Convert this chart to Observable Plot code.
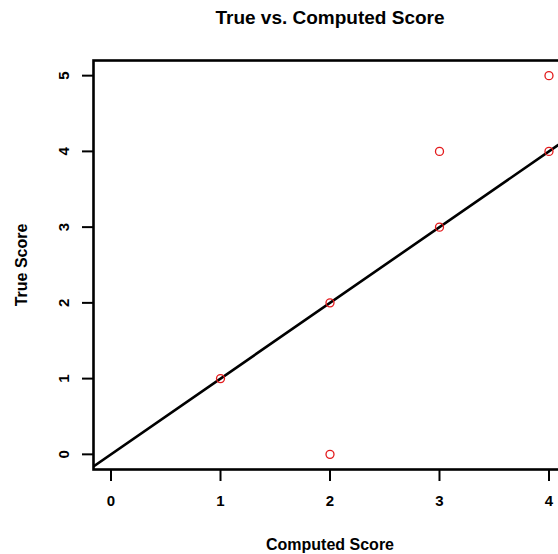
<!DOCTYPE html>
<html><head><meta charset="utf-8">
<script src="https://cdn.jsdelivr.net/npm/d3@7"></script>
<script src="https://cdn.jsdelivr.net/npm/@observablehq/plot@0.6"></script>
<style>
body{margin:0;background:#fff;}
#wrap{position:relative;width:558px;height:554px;overflow:hidden;font-family:"Liberation Sans",Arial,sans-serif;}
#title{position:absolute;top:7px;left:330px;transform:translateX(-50%);font-weight:bold;font-size:19px;white-space:nowrap;color:#000;z-index:2;}
#wrap svg{position:absolute;left:0;top:0;}
</style></head><body>
<div id="wrap"><div id="title">True vs. Computed Score</div></div>
<script>
const computed = [1, 2, 2, 3, 3, 4, 4];
const trueScore = [1, 2, 0, 3, 4, 4, 5];
const xTicks = [0, 1, 2, 3, 4];
const yTicks = [0, 1, 2, 3, 4, 5];
const refX = [-0.16, 4.16];
const refY = [-0.16, 4.16];

const points = computed.map((c, i) => ({x: c, y: trueScore[i]}));
const ref = refX.map((x, i) => ({x, y: refY[i]}));

const chart = Plot.plot({
  width: 558,
  height: 554,
  marginLeft: 93,
  marginRight: -8,
  marginTop: 60,
  marginBottom: 85,
  style: {fontFamily: '"Liberation Sans", Arial, sans-serif', fontWeight: "bold", fontSize: "14px", background: "white", overflow: "hidden", color: "black"},
  x: {domain: [-0.16, 4.16]},
  y: {domain: [-0.2, 5.2]},
  marks: [
    Plot.line(ref, {x: "x", y: "y", stroke: "black", strokeWidth: 2.6, clip: true}),
    Plot.dot(points, {x: "x", y: "y", r: 4, stroke: "#e31a1c", strokeWidth: 1.3, fill: "none"}),
    Plot.frame({stroke: "black", strokeWidth: 2.6}),
    Plot.axisX(xTicks, {tickFormat: "d", tickSize: 12, tickPadding: 14, fontSize: 15, strokeWidth: 2, label: null}),
    Plot.axisX({ticks: [], label: "Computed Score", labelAnchor: "center", labelArrow: "none", labelOffset: 80, fontSize: 16}),
    Plot.axisY(yTicks, {tickFormat: "d", tickSize: 11, tickPadding: 14, tickRotate: -90, fontSize: 15, strokeWidth: 2, label: null}),
    Plot.axisY({ticks: [], label: "True Score", labelAnchor: "center", labelArrow: "none", labelOffset: 78, fontSize: 16})
  ]
});
// tick groups are emitted with aria-hidden; make them ordinary visible elements with explicit strokes
chart.querySelectorAll('[aria-hidden]').forEach(e => e.removeAttribute("aria-hidden"));
chart.querySelectorAll('[aria-label$="axis tick"]').forEach(g => {
  g.setAttribute("stroke", "black");
  g.setAttribute("stroke-width", "2");
  g.querySelectorAll("path").forEach(p => {
    const m = /^M([-\d.e]+),([-\d.e]+)L([-\d.e]+),([-\d.e]+)$/.exec(p.getAttribute("d") || "");
    if (!m) return;
    const l = document.createElementNS("http://www.w3.org/2000/svg", "line");
    l.setAttribute("x1", m[1]); l.setAttribute("y1", m[2]);
    l.setAttribute("x2", m[3]); l.setAttribute("y2", m[4]);
    if (p.getAttribute("transform")) l.setAttribute("transform", p.getAttribute("transform"));
    l.setAttribute("stroke", "black");
    l.setAttribute("stroke-width", "2");
    p.replaceWith(l);
  });
});
document.getElementById("wrap").appendChild(chart);
</script>
</body></html>
